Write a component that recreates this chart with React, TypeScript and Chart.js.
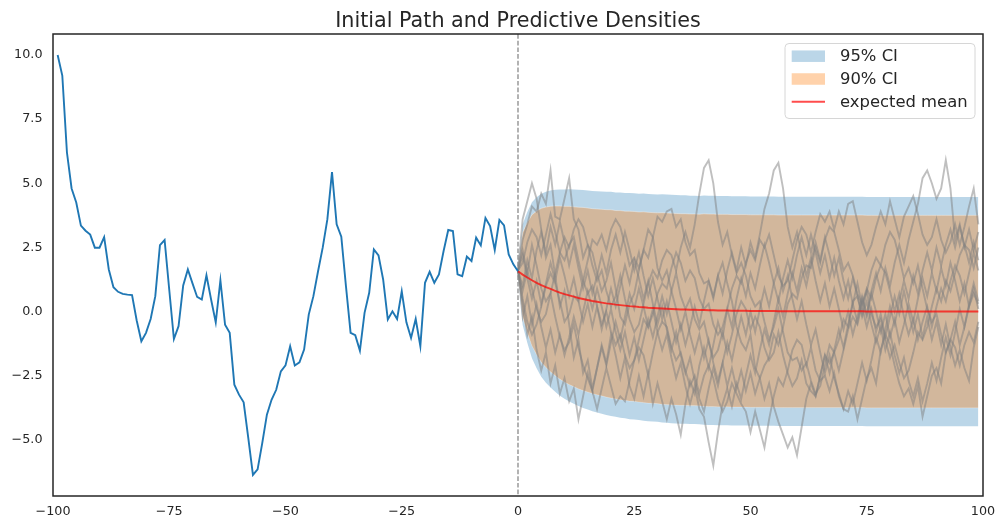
import React, { useEffect, useRef } from "react";
import { Chart, registerables } from "chart.js";

Chart.register(...registerables);

const FONT = '"DejaVu Sans", "Liberation Sans", sans-serif';
const INK = "#262626";

// Observed path, one value per step from t = -99 to t = 0
const pastStart = -99;
const pastValues = [
  10.0, 9.2, 6.2, 4.8, 4.25, 3.35, 3.15, 3.0, 2.49, 2.49,
  2.9, 1.64, 0.95, 0.77, 0.69, 0.66, 0.64, -0.35, -1.16, -0.83,
  -0.29, 0.6, 2.59, 2.79, 0.85, -1.07, -0.57, 1.02, 1.64, 1.1,
  0.57, 0.47, 1.41, 0.47, -0.42, 1.22, -0.51, -0.83, -2.85, -3.24,
  -3.54, -4.93, -6.37, -6.15, -5.13, -4.02, -3.44, -3.05, -2.33, -2.1,
  -1.35, -2.1, -1.98, -1.48, -0.12, 0.6, 1.57, 2.49, 3.59, 5.44,
  3.4, 2.92, 0.99, -0.83, -0.92, -1.52, -0.05, 0.73, 2.42, 2.19,
  1.25, -0.31, 0.01, -0.29, 0.79, -0.42, -1.03, -0.29, -1.35, 1.12,
  1.55, 1.12, 1.45, 2.36, 3.18, 3.14, 1.45, 1.38, 2.14, 1.97,
  2.88, 2.58, 3.65, 3.33, 2.4, 3.57, 3.36, 2.23, 1.84, 1.57,
];

// Forecast horizon t = 0 .. 99
const forecastMean = [
  1.57, 1.44, 1.33, 1.22, 1.12, 1.03, 0.95, 0.88, 0.81, 0.74,
  0.68, 0.63, 0.58, 0.53, 0.49, 0.45, 0.41, 0.38, 0.35, 0.32,
  0.3, 0.27, 0.25, 0.23, 0.21, 0.2, 0.18, 0.17, 0.15, 0.14,
  0.13, 0.12, 0.11, 0.1, 0.09, 0.08, 0.08, 0.07, 0.07, 0.06,
  0.06, 0.05, 0.05, 0.04, 0.04, 0.04, 0.03, 0.03, 0.03, 0.03,
  0.02, 0.02, 0.02, 0.02, 0.02, 0.02, 0.01, 0.01, 0.01, 0.01,
  0.01, 0.01, 0.01, 0.01, 0.01, 0.01, 0.01, 0.01, 0.01, 0.01,
  0.01, 0.01, 0.01, 0.01, 0.01, 0.0, 0.0, 0.0, 0.0, 0.0,
  0.0, 0.0, 0.0, 0.0, 0.0, 0.0, 0.0, 0.0, 0.0, 0.0,
  0.0, 0.0, 0.0, 0.0, 0.0, 0.0, 0.0, 0.0, 0.0, 0.0,
];

const forecastStd = [
  0.0, 1.0, 1.3, 1.55, 1.7, 1.82, 1.9, 1.96, 2.01, 2.05,
  2.08, 2.11, 2.13, 2.15, 2.17, 2.18, 2.19, 2.2, 2.21, 2.22,
  2.23, 2.23, 2.24, 2.24, 2.25, 2.25, 2.25, 2.26, 2.26, 2.26,
  2.26, 2.27, 2.27, 2.27, 2.27, 2.27, 2.27, 2.27, 2.27, 2.27,
  2.28, 2.28, 2.28, 2.28, 2.28, 2.28, 2.28, 2.28, 2.28, 2.28,
  2.28, 2.28, 2.28, 2.28, 2.28, 2.28, 2.28, 2.28, 2.28, 2.28,
  2.28, 2.28, 2.28, 2.28, 2.28, 2.28, 2.28, 2.28, 2.28, 2.28,
  2.28, 2.28, 2.28, 2.28, 2.28, 2.28, 2.28, 2.28, 2.28, 2.28,
  2.28, 2.28, 2.28, 2.28, 2.28, 2.28, 2.28, 2.28, 2.28, 2.28,
  2.28, 2.28, 2.28, 2.28, 2.28, 2.28, 2.28, 2.28, 2.28, 2.28,
];

// Simulated paths over the forecast horizon
const samplePaths = [
  [1.6, 2.8, 3.4, 4.1, 3.9, 4.6, 4.2, 5.5, 3.7, 3.6,
   4.4, 5.2, 3.6, 3.2, 2.1, 2.6, 2.3, 1.5, 0.8, 1.2,
   1.9, 0.9, -0.2, -0.5, 0.3, 0.7, 1.6, 2.4, 2.1, 2.9,
   3.7, 3.5, 3.9, 4.0, 3.3, 3.6, 2.7, 2.2, 2.4, 1.5,
   1.1, 1.2, 0.6, 1.4, 1.9, 1.1, 0.4, -0.6, -1.2, -1.5,
   -0.9, -2.2, -2.6, -2.1, -1.8, -0.9, -1.3, -0.6, 0.3, 0.7,
   0.5, 1.3, 1.8, 1.7, 2.5, 1.9, 2.8, 3.3, 3.1, 2.4,
   1.6, 1.9, 1.4, 0.7, 0.3, 0.8, -0.1, -0.6, -0.3, -1.1,
   -1.8, -1.3, -2.0, -2.6, -2.3, -1.6, -0.8, -1.1, -0.6, 0.2,
   0.9, 0.4, 1.2, 0.8, 1.5, 2.2, 2.6, 2.4, 1.7, 2.5],
  [1.6, 3.6, 4.3, 5.0, 4.4, 3.2, 2.1, 2.6, 1.4, 0.2,
   0.8, -0.5, -1.8, -1.1, -2.4, -1.9, -3.0, -2.2, -1.3, -2.0,
   -0.9, -1.7, -2.6, -1.8, -2.9, -3.4, -2.5, -3.3, -2.4, -3.6,
   -2.8, -3.5, -4.2, -3.4, -4.0, -4.8, -3.6, -2.7, -3.2, -2.1,
   -1.4, -2.2, -1.3, -0.4, -1.0, 0.1, -0.6, 0.5, 1.3, 0.6,
   1.5, 0.9, 1.8, 2.6, 1.9, 1.1, 1.7, 0.8, 1.4, 0.5,
   -0.3, 0.4, -0.5, -1.3, -0.7, -1.6, -2.4, -1.7, -2.6, -3.2,
   -3.8, -3.1, -3.6, -2.8, -2.0, -2.7, -1.9, -1.0, -1.6, -0.7,
   0.2, -0.5, 0.4, 1.2, 0.5, 1.4, 0.7, 1.6, 2.3, 1.6,
   2.5, 1.8, 2.6, 3.2, 2.5, 3.3, 2.6, 1.9, 2.7, 2.0],
  [1.6, 0.3, -0.9, -0.2, -1.5, -2.3, -1.6, -2.8, -2.1, -3.2,
   -2.6, -3.5, -3.0, -4.2, -3.3, -2.4, -3.1, -2.2, -1.4, -2.1,
   -1.2, -0.4, -1.1, -0.2, 0.7, 0.1, 0.9, 0.2, -0.6, 0.1,
   -0.8, -1.5, -0.9, -1.8, -2.6, -2.0, -2.9, -3.6, -2.9, -3.8,
   -4.1, -5.1, -6.0, -4.7, -3.6, -3.0, -3.7, -2.8, -3.4, -2.5,
   -1.7, -2.4, -1.5, -0.7, -1.3, -0.4, 0.5, -0.2, 0.7, 1.5,
   0.8, 1.7, 1.0, 1.9, 2.7, 2.0, 2.9, 2.2, 1.4, 2.1,
   1.2, 0.5, 1.3, 0.6, -0.2, 0.4, -0.5, -1.2, -0.6, -1.5,
   -0.8, -1.7, -2.4, -1.8, -2.7, -3.3, -2.6, -3.5, -2.8, -2.0,
   -2.7, -1.8, -1.0, -1.7, -0.8, 0.1, -0.6, 0.3, 1.1, 0.4],
  [1.6, 2.4, 1.5, 2.6, 1.8, 0.9, 0.4, 0.7, 1.5, 2.3,
   2.9, 2.5, 3.2, 3.6, 3.3, 2.6, 1.8, 1.2, 1.6, 0.8,
   0.2, 0.6, 1.4, 0.5, -0.3, -0.8, -0.5, 0.3, 1.1, 1.6,
   1.3, 2.0, 2.4, 2.2, 1.6, 2.5, 3.1, 2.5, 3.4, 4.6,
   5.6, 5.9, 5.0, 3.5, 2.6, 3.1, 2.2, 1.5, 1.9, 1.4,
   0.6, 0.2, 0.4, -0.4, -1.1, -0.6, 0.1, -0.8, -1.6, -1.9,
   -1.8, -2.3, -2.0, -2.7, -3.2, -2.9, -2.1, -1.3, -1.6, -1.1,
   -0.3, -0.6, 0.4, 0.6, -0.1, 0.8, 1.6, 2.1, 1.8, 2.6,
   3.1, 2.8, 2.1, 1.3, 1.7, 1.1, 1.8, 0.9, 0.1, -0.4,
   -0.1, -0.9, -1.6, -1.1, -0.4, -1.3, -0.6, 0.2, 0.7, 0.3],
  [1.6, 1.0, 2.0, 1.3, 2.4, 3.1, 2.3, 3.3, 2.6, 3.5,
   2.7, 1.8, 2.6, 1.7, 0.9, 1.6, 0.7, 1.4, 2.2, 1.5,
   2.4, 3.0, 2.3, 3.1, 2.4, 1.6, 2.3, 1.4, 0.6, 1.3,
   0.5, -0.3, 0.4, -0.4, -1.2, -0.5, -1.3, -0.6, 0.2, -0.5,
   0.4, 1.2, 0.5, 1.4, 0.7, 1.6, 2.3, 1.6, 2.5, 1.8,
   2.7, 2.1, 3.0, 4.0, 4.6, 5.5, 5.8, 4.8, 3.3, 2.5,
   3.1, 2.2, 1.4, 2.1, 1.2, 0.4, 1.1, 0.2, 0.9, 0.1,
   -0.7, 0.0, -0.9, -0.2, 0.6, -0.1, 0.8, 1.5, 0.8, 1.7,
   1.0, 1.9, 2.6, 1.9, 2.8, 3.5, 4.2, 5.2, 5.5, 5.0,
   4.4, 4.8, 5.9, 4.8, 2.8, 3.4, 2.5, 3.2, 2.4, 3.1],
  [1.6, -0.2, 0.6, -0.5, 0.3, -0.6, -1.4, -0.7, -1.6, -0.9,
   -1.7, -1.0, -0.2, -0.9, 0.0, 0.8, 0.1, 0.9, 0.2, -0.6,
   0.1, -0.8, -1.5, -0.8, -1.7, -1.0, -1.9, -1.1, -0.3, -1.0,
   -0.2, 0.6, -0.1, 0.8, 0.1, -0.7, 0.0, -0.9, -1.6, -0.9,
   -1.8, -1.1, -2.0, -2.7, -2.0, -2.9, -2.2, -3.0, -2.3, -3.1,
   -2.4, -3.2, -2.6, -3.4, -2.8, -3.7, -4.3, -4.8, -5.3, -4.9,
   -5.6, -4.5, -3.4, -2.8, -3.3, -2.5, -1.7, -2.4, -1.5, -0.7,
   -1.4, -0.5, 0.3, -0.4, 0.5, -0.2, 0.7, 0.0, -0.8, -0.1,
   -1.0, -0.3, -1.2, -0.5, 0.3, -0.4, 0.5, 1.3, 0.6, 1.5,
   0.8, 1.7, 1.0, 1.9, 1.2, 0.4, 1.1, 0.2, 0.9, 0.1],
  [1.6, 0.8, 1.6, 0.9, 0.1, -0.4, -0.1, 0.7, -0.2, -1.0,
   -1.5, -1.2, -0.5, -1.4, -2.1, -2.6, -3.1, -3.8, -3.0, -2.2,
   -2.9, -3.6, -3.3, -3.5, -2.7, -1.9, -1.4, -1.7, -2.5, -1.6,
   -0.8, -0.4, -0.6, -1.4, -1.9, -1.6, -2.3, -2.9, -2.5, -3.2,
   -2.5, -2.1, -2.6, -3.4, -3.9, -3.5, -2.8, -3.2, -3.6, -3.9,
   -4.7, -3.9, -4.6, -5.3, -4.2, -3.3, -2.6, -2.9, -2.3, -1.5,
   -1.1, -1.3, -2.1, -1.4, -2.3, -2.7, -2.5, -3.1, -2.4, -3.3,
   -3.8, -3.9, -3.3, -4.2, -3.4, -2.6, -2.2, -2.8, -1.5, -0.9,
   -1.3, -2.1, -2.8, -3.3, -3.0, -3.6, -2.9, -4.1, -3.3, -2.5,
   -2.2, -2.8, -1.6, -1.1, -1.4, -2.1, -1.3, -0.8, -1.2, -0.4],
  [1.6, 2.2, 1.3, 0.5, 1.2, 0.3, 1.1, 1.9, 1.2, 2.1,
   1.4, 0.6, 1.3, 0.4, -0.4, 0.3, -0.6, 0.2, -0.7, 0.1,
   0.9, 0.2, 1.0, 1.8, 1.1, 2.0, 1.3, 0.5, 1.2, 0.3,
   -0.5, 0.2, -0.7, -1.5, -0.8, -1.7, -2.4, -1.8, -2.7, -3.4,
   -3.9, -3.0, -2.2, -2.9, -2.0, -1.2, -1.9, -1.0, -0.2, -0.9,
   0.0, -0.8, 0.1, 0.9, 0.2, 1.1, 0.4, 1.3, 2.0, 1.3,
   2.2, 2.9, 2.2, 3.0, 2.3, 1.5, 2.2, 1.3, 2.1, 1.2,
   0.5, 1.2, 0.3, 1.1, 0.2, -0.6, 0.1, -0.8, -0.1, -1.0,
   -0.2, 0.6, -0.1, 0.8, 0.0, -0.8, -0.1, -1.0, -0.2, -1.1,
   -0.4, -1.3, -0.5, -1.4, -2.1, -1.5, -2.2, -2.7, -1.4, -0.6],
  [1.6, 1.9, 2.7, 3.2, 2.9, 2.2, 3.0, 3.8, 3.1, 2.3,
   2.0, 2.6, 2.9, 2.0, 1.2, 0.7, 1.0, 0.2, -0.5, 0.0,
   -0.8, -1.3, -0.9, -1.7, -2.2, -1.9, -1.1, -0.3, -0.6, -0.1,
   0.7, 1.1, 0.9, 1.7, 2.3, 1.9, 1.2, 1.6, 1.3, 0.5,
   0.1, 0.3, -0.5, -0.9, -0.6, 0.1, 0.9, 1.4, 1.1, 1.9,
   2.4, 2.0, 2.8, 2.5, 3.0, 2.2, 1.4, 1.0, 1.2, 2.0,
   2.8, 3.3, 3.0, 2.3, 3.1, 3.8, 3.5, 3.9, 3.2, 3.9,
   3.4, 4.2, 4.3, 3.5, 2.7, 2.2, 2.6, 3.3, 3.9, 3.4,
   4.3, 3.6, 2.9, 3.7, 4.1, 4.5, 3.8, 3.0, 2.6, 2.9,
   3.6, 2.8, 2.3, 2.7, 3.4, 2.6, 3.3, 4.1, 4.8, 3.4],
  [1.6, 0.5, -0.4, -0.9, -0.5, 0.2, 1.0, 1.5, 1.1, 0.4,
   -0.4, -0.1, 0.6, 0.4, 1.2, 2.0, 2.8, 2.6, 3.0, 2.4,
   3.2, 3.6, 3.3, 2.6, 1.8, 2.1, 1.7, 2.4, 3.2, 2.9,
   1.7, 1.2, 1.6, 0.8, 1.5, 0.6, 0.1, 0.5, -0.3, -0.7,
   -0.4, -1.2, -1.8, -1.5, -0.8, -1.6, -0.9, -0.1, 0.4, 0.1,
   -0.7, -0.2, -0.6, -1.4, -1.9, -1.6, -0.8, -1.7, -2.4, -2.9,
   -2.6, -1.9, -2.8, -3.1, -3.3, -2.5, -1.7, -2.0, -1.6, -2.3,
   -1.5, -0.7, -0.2, -0.5, 0.3, 0.9, 0.5, 1.3, 1.8, 1.5,
   0.8, 0.0, 0.7, -0.2, -0.9, -0.3, -1.1, -0.4, 0.2, -0.6,
   0.2, 0.9, 0.4, 1.2, 1.8, 1.4, 0.7, 1.5, 2.3, 1.6],
];

const xTickValues = [-100, -75, -50, -25, 0, 25, 50, 75, 100];
const yTickValues = [-5, -2.5, 0, 2.5, 5, 7.5, 10];
const legendLabels = ["95% CI", "90% CI", "expected mean"];
const chartTitle = "Initial Path and Predictive Densities";

const Z95 = 1.96;
const Z90 = 1.645;

const BLUE_BAND = "rgba(31,119,180,0.3)";
const ORANGE_BAND = "rgba(255,127,14,0.35)";
const MEAN_RED = "rgba(255,0,0,0.7)";
const PATH_GRAY = "rgba(128,128,128,0.5)";
const PAST_BLUE = "#1f77b4";

const withMinus = (s: string) => s.replace("-", "\u2212");

function App() {
  const canvasRef = useRef<HTMLCanvasElement | null>(null);

  useEffect(() => {
    const canvas = canvasRef.current;
    if (!canvas) return;

    const past = pastValues.map((y, i) => ({ x: pastStart + i, y }));
    const band = (z: number, sign: number) =>
      forecastMean.map((m, i) => ({ x: i, y: m + sign * z * forecastStd[i] }));
    const mean = forecastMean.map((y, i) => ({ x: i, y }));

    const bandSet = (data: any[], fill: any, color: string, order: number, edge: string, edgeWidth: number) => ({
      data,
      fill,
      backgroundColor: color,
      borderColor: edge,
      borderWidth: edgeWidth,
      pointRadius: 0,
      order,
    });

    const datasets: any[] = [
      bandSet(band(Z95, 1), "+1", BLUE_BAND, 20, "transparent", 0),
      bandSet(band(Z95, -1), false, BLUE_BAND, 20, "transparent", 0),
      bandSet(band(Z90, 1), "+1", ORANGE_BAND, 19, "rgba(255,255,255,0.35)", 1),
      bandSet(band(Z90, -1), false, ORANGE_BAND, 19, "rgba(255,255,255,0.35)", 1),
      ...samplePaths.map((p) => ({
        data: p.map((y, i) => ({ x: i, y })),
        borderColor: PATH_GRAY,
        borderWidth: 1.9,
        pointRadius: 0,
        fill: false,
        order: 10,
      })),
      { data: mean, borderColor: MEAN_RED, borderWidth: 1.9, pointRadius: 0, fill: false, order: 2 },
      { data: past, borderColor: PAST_BLUE, borderWidth: 1.9, pointRadius: 0, fill: false, order: 1 },
    ];

    const decor = {
      id: "decor",
      beforeDatasetsDraw(chart: any) {
        const { ctx, chartArea, scales } = chart;
        const x0 = scales.x.getPixelForValue(0);
        ctx.save();
        ctx.strokeStyle = "#8a8a8a";
        ctx.lineWidth = 1.3;
        ctx.setLineDash([4.7, 2.0]);
        ctx.beginPath();
        ctx.moveTo(x0, chartArea.top);
        ctx.lineTo(x0, chartArea.bottom);
        ctx.stroke();
        ctx.restore();
      },
      afterDraw(chart: any) {
        const { ctx, chartArea } = chart;
        ctx.save();
        // axes frame
        ctx.strokeStyle = INK;
        ctx.lineWidth = 1.5;
        ctx.strokeRect(chartArea.left, chartArea.top, chartArea.right - chartArea.left, chartArea.bottom - chartArea.top);

        // title
        ctx.fillStyle = INK;
        ctx.font = `20.7px ${FONT}`;
        ctx.textAlign = "center";
        ctx.textBaseline = "alphabetic";
        ctx.fillText(chartTitle, (chartArea.left + chartArea.right) / 2, 27);

        // legend
        const bx = 785, by = 43.5, bw = 190, bh = 75, r = 4;
        ctx.beginPath();
        ctx.moveTo(bx + r, by);
        ctx.lineTo(bx + bw - r, by);
        ctx.quadraticCurveTo(bx + bw, by, bx + bw, by + r);
        ctx.lineTo(bx + bw, by + bh - r);
        ctx.quadraticCurveTo(bx + bw, by + bh, bx + bw - r, by + bh);
        ctx.lineTo(bx + r, by + bh);
        ctx.quadraticCurveTo(bx, by + bh, bx, by + bh - r);
        ctx.lineTo(bx, by + r);
        ctx.quadraticCurveTo(bx, by, bx + r, by);
        ctx.closePath();
        ctx.fillStyle = "rgba(255,255,255,0.8)";
        ctx.fill();
        ctx.strokeStyle = "#d6d6d6";
        ctx.lineWidth = 1;
        ctx.stroke();

        const rows = [56.2, 79.0, 101.7];
        const swatchX = 791.7, swatchW = 33.3, swatchH = 11.5;
        const swatches = [BLUE_BAND, ORANGE_BAND];
        swatches.forEach((c, i) => {
          ctx.fillStyle = c;
          ctx.fillRect(swatchX, rows[i] - swatchH / 2, swatchW, swatchH);
        });
        ctx.strokeStyle = MEAN_RED;
        ctx.lineWidth = 1.9;
        ctx.beginPath();
        ctx.moveTo(swatchX, rows[2]);
        ctx.lineTo(swatchX + swatchW, rows[2]);
        ctx.stroke();

        ctx.fillStyle = INK;
        ctx.font = `16.4px ${FONT}`;
        ctx.textAlign = "left";
        ctx.textBaseline = "alphabetic";
        legendLabels.forEach((t, i) => ctx.fillText(t, 840, rows[i] + 5.2));
        ctx.restore();
      },
    };

    const chart = new Chart(canvas, {
      type: "line",
      data: { datasets },
      plugins: [decor],
      options: {
        animation: false,
        responsive: false,
        devicePixelRatio: 1,
        events: [],
        layout: { padding: { top: 34, right: 23, left: 0, bottom: 0 } },
        elements: { line: { tension: 0 }, point: { radius: 0 } },
        plugins: {
          legend: { display: false },
          tooltip: { enabled: false },
          title: { display: false },
        },
        scales: {
          x: {
            type: "linear",
            min: -100,
            max: 100,
            grid: { display: false, drawTicks: false },
            border: { display: false },
            afterFit: (s: any) => { s.height = 34; },
            afterBuildTicks: (s: any) => { s.ticks = xTickValues.map((v) => ({ value: v })); },
            ticks: {
              padding: 8,
              color: INK,
              font: { family: FONT, size: 12.75 },
              maxRotation: 0,
              callback: (v: any) => withMinus(String(v)),
            },
          },
          y: {
            type: "linear",
            min: -7.19,
            max: 10.82,
            grid: { display: false, drawTicks: false },
            border: { display: false },
            afterFit: (s: any) => { s.width = 53; },
            afterBuildTicks: (s: any) => { s.ticks = yTickValues.map((v) => ({ value: v })); },
            ticks: {
              padding: 10.5,
              color: INK,
              font: { family: FONT, size: 12.75 },
              callback: (v: any) => withMinus(Number(v).toFixed(1)),
            },
          },
        },
      } as any,
    });

    return () => chart.destroy();
  }, []);

  return (
    <div style={{ position: "absolute", left: 0, top: 0, width: 1006, height: 530, background: "#fff" }}>
      <canvas ref={canvasRef} width={1006} height={530} style={{ display: "block" }} />
    </div>
  );
}

export default App;
